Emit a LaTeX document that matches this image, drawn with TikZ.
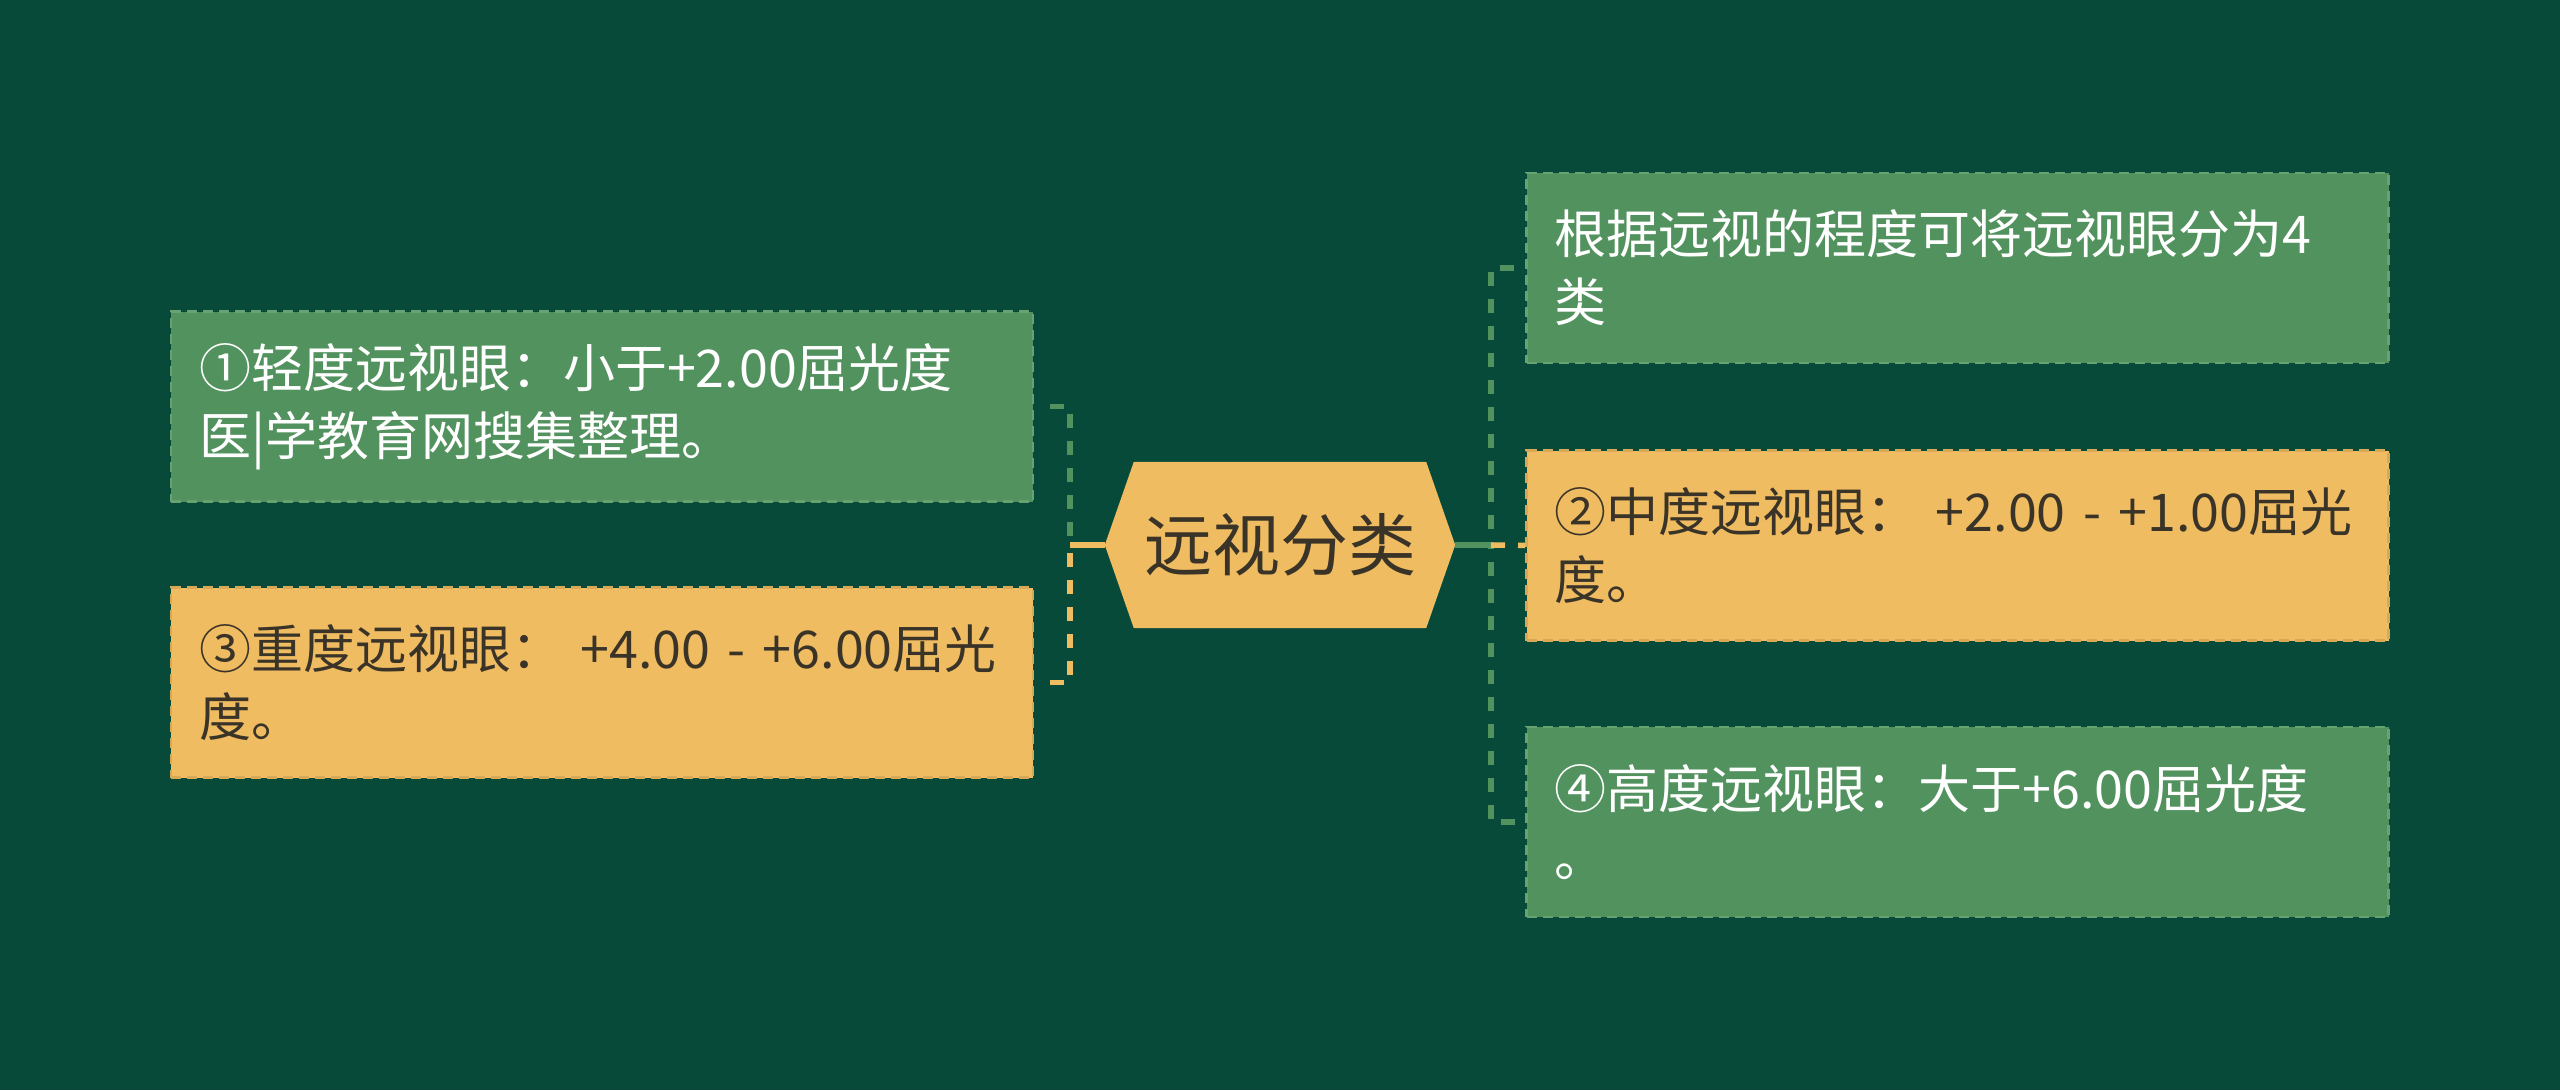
\documentclass[tikz,border=0pt]{standalone}
\usepackage{fontspec}
\newfontfamily\cjk{Noto Sans CJK SC}
\usetikzlibrary{backgrounds,calc}
\definecolor{bgc}{HTML}{074A39}
\definecolor{gbox}{HTML}{52925E}
\definecolor{ybox}{HTML}{F0BC62}
\definecolor{ink}{HTML}{3A3428}
\definecolor{gedge}{HTML}{66A272}
\definecolor{yedge}{HTML}{D9A857}
\begin{document}
\begin{tikzpicture}[x=1pt,y=-1pt,
  leaf/.style={rectangle, inner xsep=28pt, inner ysep=0pt, text width=806pt,
    minimum height=190pt, align=left, font=\cjk\fontsize{52}{68}\selectfont,
    line width=2.5pt, dash pattern=on 10pt off 6pt},
  gleaf/.style={leaf, fill=gbox, draw=gedge, text=white},
  yleaf/.style={leaf, fill=ybox, draw=yedge, text=ink},
  hub/.style={minimum width=350pt, minimum height=166pt, inner sep=0pt,
    font=\cjk\fontsize{68}{80}\selectfont, text=ink},
  link/.style={line width=5.5pt},
  dlink/.style={link, dash pattern=on 14pt off 13pt},
]
\node[hub] (c) at (1280,545) {远视分类};
\node[gleaf] (l1) at (602,406.5) {①轻度远视眼：小于+2.00屈光度\\医|学教育网搜集整理。};
\node[yleaf] (l3) at (602,682.5) {③重度远视眼：~+4.00~-~+6.00屈光\\度。};
\node[gleaf] (r1) at (1957.5,268) {根据远视的程度可将远视眼分为4\\类};
\node[yleaf] (r2) at (1957.5,545.5) {②中度远视眼：~+2.00~-~+1.00屈光\\度。};
\node[gleaf] (r4) at (1957.5,822) {④高度远视眼：大于+6.00屈光度\\。};

\begin{scope}[on background layer]
\fill[bgc] (0,0) rectangle (2560,1090);
\fill[ybox] (c.west) -- ([xshift=29pt]c.north west) -- ([xshift=-29pt]c.north east)
  -- (c.east) -- ([xshift=-29pt]c.south east) -- ([xshift=29pt]c.south west) -- cycle;
\end{scope}

\coordinate (lj) at (1070,545);
\coordinate (rj) at (1491,545);
\draw[link, ybox] (c.west) -- (lj);
\draw[dlink, gbox, shorten <=16pt] (l1.east) -| (lj);
\draw[dlink, ybox, shorten <=16pt] (l3.east) -| (lj);
\draw[link, gbox] (c.east) -- (rj);
\draw[dlink, gbox, shorten <=11pt] (r1.west) -| (rj);
\draw[dlink, gbox, shorten <=10pt] (r4.west) -| (rj);
\draw[dlink, ybox] (rj) -- (r2.west);
\end{tikzpicture}
\end{document}
